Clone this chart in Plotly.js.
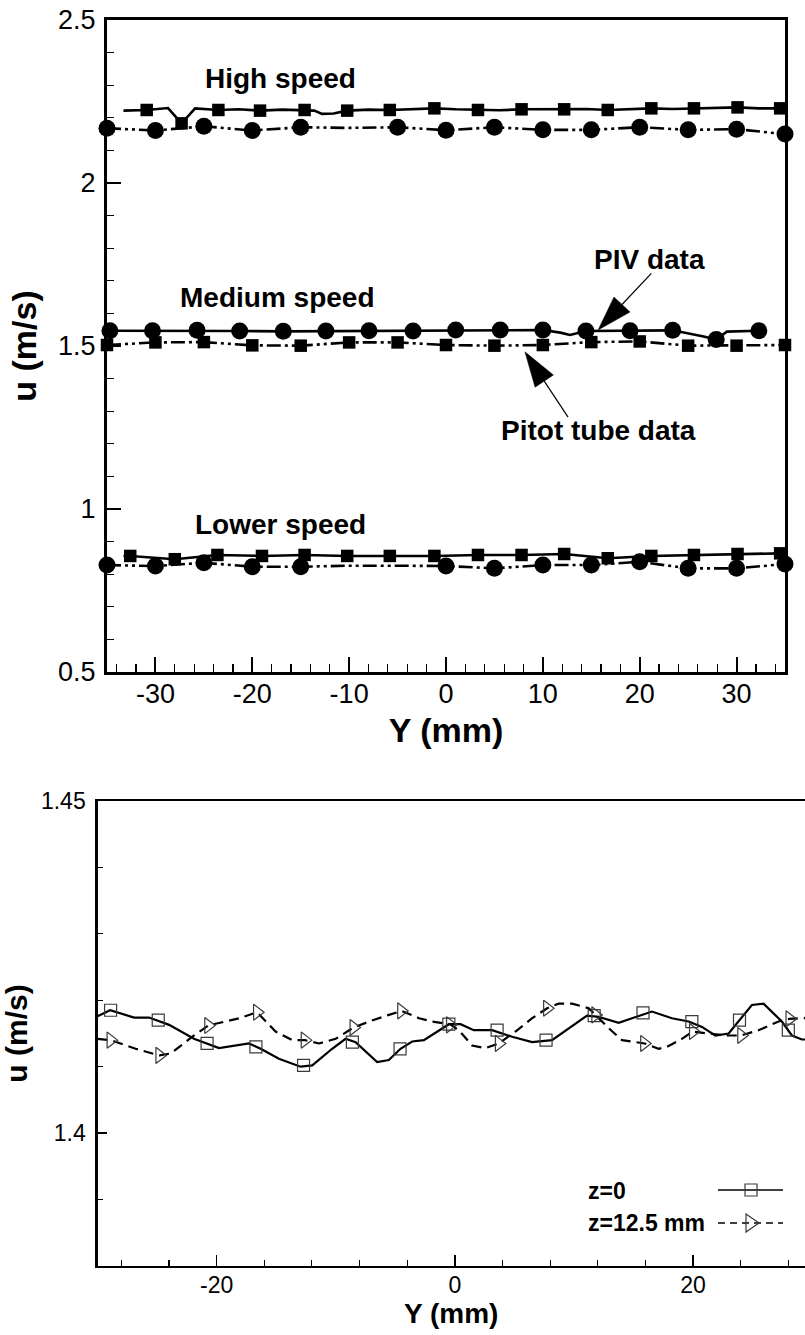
<!DOCTYPE html>
<html>
<head>
<meta charset="utf-8">
<script src="https://cdn.plot.ly/plotly-3.0.1.min.js"></script>
<style>
html,body{margin:0;padding:0;background:#fff;overflow:hidden;}
#chart{width:805px;height:1335px;}
</style>
</head>
<body>
<div id="chart"></div>
<script>
// ---------------- DATA: top chart (u vs Y, three speeds) ----------------
// High speed: PIV (solid line, filled squares)
const highPivLineY = [-33.3,-30.9,-28.7,-27.3,-25.9,-23.5,-21.4,-19.2,-16.9,-14.6,-13.6,-12.8,-11.6,-10.2,-8.0,-5.8,-3.5,-1.2,1.0,3.3,5.5,7.8,10.0,12.2,14.5,16.7,19.0,21.2,23.4,25.6,27.9,30.1,32.3,34.5];
const highPivLineU = [2.222,2.224,2.230,2.183,2.229,2.224,2.226,2.222,2.225,2.224,2.222,2.212,2.213,2.222,2.225,2.224,2.226,2.229,2.226,2.224,2.223,2.226,2.227,2.226,2.227,2.224,2.227,2.229,2.227,2.229,2.230,2.232,2.229,2.229];
const highPivMarkY = [-30.9,-27.3,-23.5,-19.2,-14.6,-10.2,-5.8,-1.2,3.3,7.8,12.2,16.7,21.2,25.6,30.1,34.5];
const highPivMarkU = [2.224,2.183,2.224,2.222,2.224,2.222,2.224,2.229,2.224,2.226,2.226,2.224,2.229,2.229,2.232,2.229];
// High speed: Pitot tube (dash-dot-dot line, filled circles)
const highPitotY = [-35,-30,-25,-20,-15,-10,-5,0,5,10,15,20,25,30,35];
const highPitotU = [2.168,2.161,2.174,2.161,2.171,2.169,2.171,2.162,2.171,2.163,2.163,2.171,2.163,2.165,2.150];
const highPitotMarkY = [-35,-30,-25,-20,-15,-5,0,5,10,15,20,25,30,35];
const highPitotMarkU = [2.168,2.161,2.174,2.161,2.171,2.171,2.162,2.171,2.163,2.163,2.171,2.163,2.165,2.150];

// Medium speed: PIV (solid line, filled circles)
const medPivLineY = [-34.7,-30.3,-25.7,-21.3,-16.8,-12.4,-7.95,-3.4,1.0,5.6,10.0,11.8,12.8,14.45,19.0,23.4,26.6,27.9,29.0,32.3];
const medPivLineU = [1.547,1.547,1.548,1.546,1.545,1.546,1.547,1.546,1.549,1.549,1.549,1.541,1.534,1.546,1.547,1.548,1.529,1.520,1.544,1.547];
const medPivMarkY = [-34.7,-30.3,-25.7,-21.3,-16.8,-12.4,-7.95,-3.4,1.0,5.6,10.0,14.45,19.0,23.4,27.9,32.3];
const medPivMarkU = [1.547,1.547,1.548,1.546,1.545,1.546,1.547,1.546,1.549,1.549,1.549,1.546,1.547,1.548,1.520,1.547];
// Medium speed: Pitot tube (dash-dot-dot line, filled squares)
const medPitotY = [-35,-30,-25,-20,-15,-10,-5,0,5,10,15,20,25,30,35];
const medPitotU = [1.503,1.511,1.512,1.502,1.501,1.511,1.511,1.503,1.501,1.503,1.512,1.514,1.501,1.501,1.503];

// Lower speed: PIV (solid line, filled squares)
const lowPivLineY = [-33.3,-32.6,-28.0,-23.6,-19.0,-14.6,-10.2,-5.8,-1.2,3.3,7.8,12.2,16.7,21.2,25.6,30.1,34.5];
const lowPivLineU = [0.856,0.856,0.846,0.859,0.856,0.859,0.856,0.856,0.856,0.859,0.859,0.862,0.849,0.856,0.859,0.862,0.864];
const lowPivMarkY = [-32.6,-28.0,-23.6,-19.0,-14.6,-10.2,-5.8,-1.2,3.3,7.8,12.2,16.7,21.2,25.6,30.1,34.5];
const lowPivMarkU = [0.856,0.846,0.859,0.856,0.859,0.856,0.856,0.856,0.859,0.859,0.862,0.849,0.856,0.859,0.862,0.864];
// Lower speed: Pitot tube (dash-dot-dot line, filled circles)
const lowPitotY = [-35,-30,-25,-20,-15,-10,-5,0,5,10,15,20,25,30,35];
const lowPitotU = [0.828,0.825,0.835,0.823,0.823,0.826,0.826,0.825,0.818,0.828,0.828,0.838,0.818,0.818,0.831];
const lowPitotMarkY = [-35,-30,-25,-20,-15,0,5,10,15,20,25,30,35];
const lowPitotMarkU = [0.828,0.825,0.835,0.823,0.823,0.825,0.818,0.828,0.828,0.838,0.818,0.818,0.831];

// Tick labels (top chart)
const topXTicks = [-30,-20,-10,0,10,20,30];
const topXTickText = ['-30','-20','-10','0','10','20','30'];
const topYTicks = [0.5,1,1.5,2,2.5];
const topYTickText = ['0.5','1','1.5','2','2.5'];

// ---------------- DATA: bottom chart (z=0 vs z=12.5 mm) ----------------
const z0LineY = [-30.0,-28.94,-26.93,-25.67,-23.99,-21.9,-19.8,-17.28,-16.3,-14.77,-12.95,-11.97,-10.3,-9.17,-8.33,-6.52,-5.54,-4.56,-3.58,-2.6,-0.5,0.48,1.59,3.13,4.81,6.49,8.16,9.7,11.1,12.08,13.76,14.88,16.55,18.23,19.63,20.75,21.87,22.99,24.94,25.92,27.46,28.3,29.14,29.4];
const z0LineU = [1.4176,1.4185,1.4174,1.4174,1.4163,1.4142,1.4128,1.4135,1.4127,1.4112,1.4100,1.4102,1.4127,1.4142,1.4137,1.4107,1.4110,1.4127,1.4138,1.4140,1.4164,1.4164,1.4155,1.4155,1.4145,1.4137,1.4140,1.4160,1.4177,1.4175,1.4166,1.4173,1.4183,1.4173,1.4168,1.4160,1.4147,1.4150,1.4193,1.4195,1.4168,1.4147,1.4141,1.4141];
const z0MarkY = [-28.9,-24.9,-20.8,-16.7,-12.7,-8.6,-4.6,-0.5,3.55,7.66,11.7,15.8,19.9,23.9,28.0];
const z0MarkU = [1.4185,1.4170,1.4135,1.4130,1.4102,1.4137,1.4127,1.4164,1.4155,1.4140,1.4177,1.4181,1.4168,1.4170,1.4155];

const z125LineY = [-30.0,-28.9,-26.8,-24.8,-23.85,-21.9,-20.7,-19.24,-18.1,-16.6,-15.05,-13.65,-12.58,-11.4,-10.0,-8.5,-7.2,-5.54,-4.47,-3.0,-1.9,-0.42,0.34,1.45,2.57,3.69,5.09,6.49,7.75,8.72,9.84,11.24,11.8,12.92,14.04,15.94,17.11,17.81,19.07,19.97,21.3,22.7,24.05,25.5,27.18,28.08,29.14,29.4];
const z125LineU = [1.4142,1.4140,1.4127,1.4117,1.4120,1.4147,1.4162,1.4168,1.4173,1.4182,1.4153,1.4140,1.4140,1.4135,1.4142,1.4159,1.4168,1.4178,1.4184,1.4173,1.4168,1.4164,1.4155,1.4132,1.4128,1.4135,1.4153,1.4173,1.4188,1.4195,1.4195,1.4188,1.4178,1.4158,1.4140,1.4135,1.4127,1.4130,1.4142,1.4153,1.4150,1.4147,1.4147,1.4155,1.4168,1.4172,1.4173,1.4173];
const z125MarkY = [-28.9,-24.8,-20.7,-16.6,-12.6,-8.5,-4.5,-0.4,3.7,7.75,11.8,15.9,20.0,24.05,28.1];
const z125MarkU = [1.4140,1.4117,1.4162,1.4182,1.4140,1.4159,1.4184,1.4163,1.4135,1.4188,1.4178,1.4135,1.4153,1.4147,1.4172];

const botXTicks = [-20,0,20];
const botXTickText = ['-20','0','20'];
const botYTicks = [1.4,1.45];
const botYTickText = ['1.4','1.45'];

const legendNames = ['z=0','z=12.5 mm'];
const speedLabels = ['High speed','Medium speed','Lower speed'];

// ---------------- LAYOUT GEOMETRY ----------------
const W = 805, H = 1335;
const FONT = '"Liberation Sans", Arial, Helvetica, sans-serif';
const topF = {l:107, r:785, t:20, b:672, x0:-35, x1:35, y0:0.5, y1:2.5};
const botF = {l:97.5, r:805, t:801, b:1266, x0:-30, x1:29.4, y0:1.38, y1:1.45};
function toPx(f, x, y){
  return [f.l + (x-f.x0)/(f.x1-f.x0)*(f.r-f.l), f.b - (y-f.y0)/(f.y1-f.y0)*(f.b-f.t)];
}
function pp(px, py){ return (px/W).toFixed(5) + ',' + (1-py/H).toFixed(5); }

const PITOT_DASH = '14px,4px,3px,4px,3px,4px';

function lineTr(x, y, dash, ax, w){
  return {x:x, y:y, mode:'lines', type:'scatter', xaxis:ax[0], yaxis:ax[1], showlegend:false,
    line:{color:'#000', width:w, dash:dash}, hoverinfo:'skip'};
}
function markTr(x, y, sym, size, ax, open){
  return {x:x, y:y, mode:'markers', type:'scatter', xaxis:ax[0], yaxis:ax[1], showlegend:false, cliponaxis:false,
    marker: open ? {symbol:sym, size:size, color:'#3a3a3a', line:{color:'#3a3a3a', width:1.2}}
                 : {symbol:sym, size:size, color:'#000', line:{width:0}}, hoverinfo:'skip'};
}
const T = ['x','y'], B = ['x2','y2'];
const SQ = 12.5, CI = 17;
const traces = [
  lineTr(highPivLineY, highPivLineU, 'solid', T, 2.6),
  markTr(highPivMarkY, highPivMarkU, 'square', SQ, T),
  lineTr(highPitotY, highPitotU, PITOT_DASH, T, 2.6),
  markTr(highPitotMarkY, highPitotMarkU, 'circle', CI, T),
  lineTr(medPivLineY, medPivLineU, 'solid', T, 2.6),
  markTr(medPivMarkY, medPivMarkU, 'circle', CI, T),
  lineTr(medPitotY, medPitotU, PITOT_DASH, T, 2.6),
  markTr(medPitotY, medPitotU, 'square', SQ, T),
  lineTr(lowPivLineY, lowPivLineU, 'solid', T, 2.6),
  markTr(lowPivMarkY, lowPivMarkU, 'square', SQ, T),
  lineTr(lowPitotY, lowPitotU, PITOT_DASH, T, 2.6),
  markTr(lowPitotMarkY, lowPitotMarkU, 'circle', CI, T),
  lineTr(z0LineY, z0LineU, 'solid', B, 2.2),
  markTr(z0MarkY, z0MarkU, 'square-open', 12, B, true),
  lineTr(z125LineY, z125LineU, '10px,6px', B, 2.2),
  markTr(z125MarkY, z125MarkU, 'triangle-right-open', 14, B, true)
];

// Arrows (filled heads) for PIV / Pitot callouts
const shapes = [];
function arrow(tip, tail){
  const [tx,ty] = toPx(topF, tip[0], tip[1]);
  const [sx,sy] = toPx(topF, tail[0], tail[1]);
  const dx = sx-tx, dy = sy-ty, L = Math.hypot(dx,dy), ux = dx/L, uy = dy/L;
  const hl = 35, hw = 11;
  const bx = tx+ux*hl, by = ty+uy*hl;
  shapes.push({type:'line', xref:'paper', yref:'paper', x0:sx/W, y0:1-sy/H, x1:bx/W, y1:1-by/H, line:{color:'#000', width:1.2}});
  shapes.push({type:'path', xref:'paper', yref:'paper', fillcolor:'#000', line:{color:'#000', width:0.5},
    path:'M'+pp(tx,ty)+'L'+pp(bx-uy*hw, by+ux*hw)+'L'+pp(bx+uy*hw, by-ux*hw)+'Z'});
}
arrow([15.7,1.549],[21.2,1.723]);
arrow([8.15,1.482],[12.6,1.282]);

// Manual legend glyphs (text left, symbol right, as in the original)
shapes.push({type:'line', xref:'paper', yref:'paper', x0:718/W, x1:783/W, y0:1-1190/H, y1:1-1190/H, line:{color:'#000', width:1.6}});
shapes.push({type:'rect', xref:'paper', yref:'paper', x0:745/W, x1:757/W, y0:1-1184/H, y1:1-1196/H, fillcolor:'rgba(0,0,0,0)', line:{color:'#3a3a3a', width:1.2}});
shapes.push({type:'line', xref:'paper', yref:'paper', x0:718/W, x1:783/W, y0:1-1223/H, y1:1-1223/H, line:{color:'#000', width:1.6, dash:'7px,5px'}});
shapes.push({type:'path', xref:'paper', yref:'paper', fillcolor:'rgba(0,0,0,0)', line:{color:'#3a3a3a', width:1.2},
  path:'M'+pp(746,1214)+'L'+pp(759,1223)+'L'+pp(746,1232)+'Z'});

const annFont = {family:FONT, size:28, color:'#000'};
const annotations = [
  {x:-17.1, y:2.322, xref:'x', yref:'y', text:'<b>'+speedLabels[0]+'</b>', showarrow:false, font:annFont},
  {x:-17.45, y:1.650, xref:'x', yref:'y', text:'<b>'+speedLabels[1]+'</b>', showarrow:false, font:annFont},
  {x:-17.1, y:0.951, xref:'x', yref:'y', text:'<b>'+speedLabels[2]+'</b>', showarrow:false, font:annFont},
  {x:21.06, y:1.764, xref:'x', yref:'y', text:'<b>PIV data</b>', showarrow:false, font:annFont},
  {x:15.7, y:1.242, xref:'x', yref:'y', text:'<b>Pitot tube data</b>', showarrow:false, font:annFont},
  {x:586/W, y:1-1191/H, xref:'paper', yref:'paper', xanchor:'left', yanchor:'middle', text:'<b>'+legendNames[0]+'</b>', showarrow:false, font:{family:FONT, size:23, color:'#000'}},
  {x:586/W, y:1-1223/H, xref:'paper', yref:'paper', xanchor:'left', yanchor:'middle', text:'<b>'+legendNames[1]+'</b>', showarrow:false, font:{family:FONT, size:23, color:'#000'}}
];

const layout = {
  width:W, height:H, margin:{l:0, r:0, t:0, b:0}, paper_bgcolor:'#fff', plot_bgcolor:'#fff',
  showlegend:false, font:{family:FONT, color:'#000'},
  xaxis:{domain:[topF.l/W, topF.r/W], range:[topF.x0, topF.x1], anchor:'y',
    tickmode:'array', tickvals:topXTicks, ticktext:topXTickText, ticks:'inside', ticklen:15, tickwidth:2, tickcolor:'#000',
    minor:{tickmode:'linear', tick0:0, dtick:2, ticks:'inside', ticklen:8, tickwidth:1.2, tickcolor:'#000'},
    showline:true, linewidth:3, linecolor:'#000', mirror:true, showgrid:false, zeroline:false,
    tickfont:{family:FONT, size:27, color:'#000'}, ticklabelstandoff:-4,
    title:{text:'<b>Y (mm)</b>', font:{family:FONT, size:34, color:'#000'}, standoff:10}},
  yaxis:{domain:[1-topF.b/H, 1-topF.t/H], range:[topF.y0, topF.y1], anchor:'x',
    tickmode:'array', tickvals:topYTicks, ticktext:topYTickText, ticks:'inside', ticklen:14, tickwidth:2, tickcolor:'#000',
    minor:{tickmode:'linear', tick0:0.5, dtick:0.1, ticks:'inside', ticklen:7, tickwidth:1.2, tickcolor:'#000'},
    showline:true, linewidth:3, linecolor:'#000', mirror:true, showgrid:false, zeroline:false,
    tickfont:{family:FONT, size:27, color:'#000'}, ticklabelstandoff:3,
    title:{text:'<b>u (m/s)</b>', font:{family:FONT, size:34, color:'#000'}, standoff:12}},
  xaxis2:{domain:[botF.l/W, botF.r/W], range:[botF.x0, botF.x1], anchor:'y2',
    tickmode:'array', tickvals:botXTicks, ticktext:botXTickText, ticks:'inside', ticklen:11, tickwidth:1.5, tickcolor:'#000',
    minor:{tickmode:'linear', tick0:0, dtick:4, ticks:'inside', ticklen:6, tickwidth:1.2, tickcolor:'#000'},
    showline:true, linewidth:2.2, linecolor:'#000', mirror:true, showgrid:false, zeroline:false,
    tickfont:{family:FONT, size:23, color:'#000'}, ticklabelstandoff:-3,
    title:{text:'<b>Y (mm)</b>', font:{family:FONT, size:28, color:'#000'}, standoff:5}},
  yaxis2:{domain:[1-botF.b/H, 1-botF.t/H], range:[botF.y0, botF.y1], anchor:'x2',
    tickmode:'array', tickvals:botYTicks, ticktext:botYTickText, ticks:'inside', ticklen:9, tickwidth:1.5, tickcolor:'#000',
    minor:{tickmode:'linear', tick0:1.38, dtick:0.01, ticks:'inside', ticklen:5, tickwidth:1.2, tickcolor:'#000'},
    showline:true, linewidth:2.2, linecolor:'#000', mirror:false, showgrid:false, zeroline:false,
    tickfont:{family:FONT, size:23, color:'#000'}, ticklabelstandoff:5,
    title:{text:'<b>u (m/s)</b>', font:{family:FONT, size:30, color:'#000'}, standoff:16}},
  shapes:shapes,
  annotations:annotations
};

Plotly.newPlot('chart', traces, layout, {displayModeBar:false, staticPlot:true});
</script>
</body>
</html>
